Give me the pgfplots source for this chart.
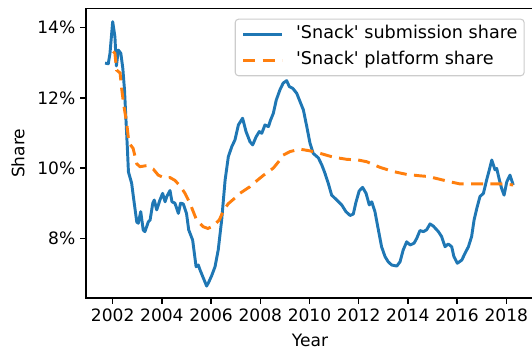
\documentclass[border=0pt]{standalone}
\usepackage{fontspec}
\setmainfont{DejaVu Sans}
\usepackage{pgfplots}
\pgfplotsset{compat=1.18}

\definecolor{mplblue}{HTML}{1F77B4}
\definecolor{mplorange}{HTML}{FF7F0E}
\newcommand\fs{\fontsize{12.8}{15.4}\selectfont}
\newcommand\lfs{\fontsize{13.2}{15.8}\selectfont}

\begin{document}
\begin{tikzpicture}
\begin{axis}[
  scale only axis,
  width=336pt, height=217pt,
  xmin=2000.915, xmax=2019.126,
  ymin=6.30, ymax=14.54,
  font=\fs,
  axis line style={line width=1pt},
  tick style={line width=1pt, black},
  tick pos=left, tick align=outside,
  major tick length=4.5pt,
  xtick={2002,2004,2006,2008,2010,2012,2014,2016,2018},
  xticklabels={2002,2004,2006,2008,2010,2012,2014,2016,2018},
  ytick={8,10,12,14},
  yticklabels={8\%,10\%,12\%,14\%},
  xlabel={Year}, ylabel={Share},
  xlabel style={at={([yshift=-32pt]rel axis cs:0.5,0)}, anchor=center},
  ylabel style={at={([xshift=-51pt]rel axis cs:0,0.5)}, anchor=center, rotate=0},
  legend cell align=left,
  legend style={at={(rel axis cs:1,1)}, anchor=north east, xshift=-7pt, yshift=-7.5pt,
    draw=black!20, line width=0.8pt, rounded corners=2.5pt, fill=white, fill opacity=0.8, text opacity=1,
    inner xsep=5pt, inner ysep=5.2pt, row sep=7pt, font=\lfs,
    nodes={inner sep=0pt, text height=9.5pt, text depth=3pt},
    /tikz/every odd column/.append style={column sep=9.5pt}},
  legend image code/.code={\draw[#1] (0pt,0pt) -- (29pt,0pt);},
]
\coordinate (sw) at (rel axis cs:0,0);

% 'Snack' share of submissions
\addplot[mplblue, line width=2.2pt, line join=round] coordinates {
(2001.69,12.99) (2001.82,12.97) (2001.89,13.27) (2002.00,14.17) (2002.09,13.74)
(2002.15,12.91) (2002.23,13.36) (2002.33,13.27) (2002.41,12.85) (2002.48,12.23)
(2002.54,11.37) (2002.60,10.52) (2002.64,9.89) (2002.77,9.57) (2002.84,9.19)
(2002.98,8.46) (2003.04,8.43) (2003.14,8.76) (2003.24,8.24) (2003.31,8.19)
(2003.45,8.47) (2003.52,8.52) (2003.63,9.00) (2003.69,9.09) (2003.79,8.81)
(2003.92,9.09) (2004.03,9.28) (2004.13,9.04) (2004.20,9.19) (2004.33,9.36)
(2004.41,9.04) (2004.53,9.00) (2004.67,8.71) (2004.76,9.00) (2004.87,8.98)
(2005.00,8.71) (2005.09,8.24) (2005.25,7.95) (2005.39,7.19) (2005.48,7.24)
(2005.55,7.10) (2005.66,6.91) (2005.82,6.64) (2005.91,6.76) (2006.02,6.93)
(2006.16,7.19) (2006.29,7.67) (2006.43,8.52) (2006.57,9.66) (2006.70,10.32)
(2006.84,10.61) (2006.97,10.80) (2007.11,11.23) (2007.28,11.42) (2007.42,11.04)
(2007.58,10.75) (2007.69,10.66) (2007.83,10.89) (2007.96,11.04) (2008.06,10.99)
(2008.19,11.23) (2008.33,11.18) (2008.42,11.37) (2008.53,11.56) (2008.65,11.94)
(2008.80,12.23) (2008.93,12.42) (2009.07,12.49) (2009.18,12.32) (2009.32,12.27)
(2009.48,12.13) (2009.64,11.85) (2009.75,11.66) (2009.89,11.18) (2010.02,10.71)
(2010.15,10.42) (2010.36,10.29) (2010.50,10.09) (2010.63,9.85) (2010.77,9.55)
(2010.90,9.23) (2011.11,9.09) (2011.31,8.95) (2011.48,8.76) (2011.65,8.65)
(2011.78,8.69) (2011.89,9.03) (2012.02,9.35) (2012.16,9.45) (2012.30,9.28)
(2012.43,8.95) (2012.53,9.04) (2012.66,8.76) (2012.80,8.24) (2012.93,7.76)
(2013.07,7.48) (2013.20,7.33) (2013.34,7.24) (2013.55,7.21) (2013.68,7.33)
(2013.81,7.67) (2013.95,7.90) (2014.09,7.81) (2014.25,7.86) (2014.36,8.00)
(2014.49,8.22) (2014.63,8.19) (2014.76,8.24) (2014.90,8.41) (2015.03,8.35)
(2015.24,8.19) (2015.37,8.05) (2015.51,7.76) (2015.64,7.84) (2015.78,7.76)
(2015.87,7.48) (2016.01,7.29) (2016.19,7.38) (2016.32,7.57) (2016.46,7.76)
(2016.59,8.05) (2016.69,8.52) (2016.80,8.85) (2016.93,9.19) (2017.07,9.28)
(2017.20,9.66) (2017.31,9.95) (2017.41,10.23) (2017.54,9.95) (2017.61,9.99)
(2017.72,9.66) (2017.81,9.42) (2017.91,9.23) (2018.02,9.61) (2018.15,9.80)
(2018.28,9.52)
};
\addlegendentry{\textquotesingle Snack\textquotesingle{} submission share}

% 'Snack' share of the platform
\addplot[mplorange, line width=2.2pt, dash pattern=on 9pt off 5.5pt] coordinates {
(2002.02,13.32) (2002.09,13.27) (2002.16,12.79) (2002.30,12.71) (2002.37,12.23)
(2002.46,11.75) (2002.57,11.28) (2002.66,10.72) (2002.83,10.56) (2002.98,10.12)
(2003.11,10.04) (2003.38,10.07) (2003.65,9.97) (2003.85,9.80) (2004.13,9.71)
(2004.33,9.73) (2004.53,9.65) (2004.74,9.49) (2004.94,9.28) (2005.14,9.00)
(2005.41,8.52) (2005.68,8.33) (2005.87,8.28) (2006.09,8.35) (2006.33,8.52)
(2006.48,8.75) (2006.69,8.98) (2007.04,9.19) (2007.17,9.28) (2007.58,9.47)
(2007.65,9.52) (2008.12,9.79) (2008.53,10.00) (2008.80,10.23) (2008.93,10.37)
(2009.21,10.47) (2009.61,10.54) (2010.02,10.49) (2010.43,10.42) (2010.97,10.31)
(2011.51,10.25) (2011.98,10.23) (2012.33,10.18) (2012.87,10.02) (2013.41,9.90)
(2013.95,9.82) (2014.49,9.78) (2014.83,9.76) (2015.30,9.68) (2015.71,9.61)
(2016.11,9.55) (2016.66,9.55) (2017.20,9.55) (2017.74,9.55) (2018.28,9.52)
};
\addlegendentry{\textquotesingle Snack\textquotesingle{} platform share}
\end{axis}
\pgfresetboundingbox
\useasboundingbox ([shift={(-64.5pt,-43.5pt)}]sw) rectangle ++(399pt,267pt);
\end{tikzpicture}
\end{document}
